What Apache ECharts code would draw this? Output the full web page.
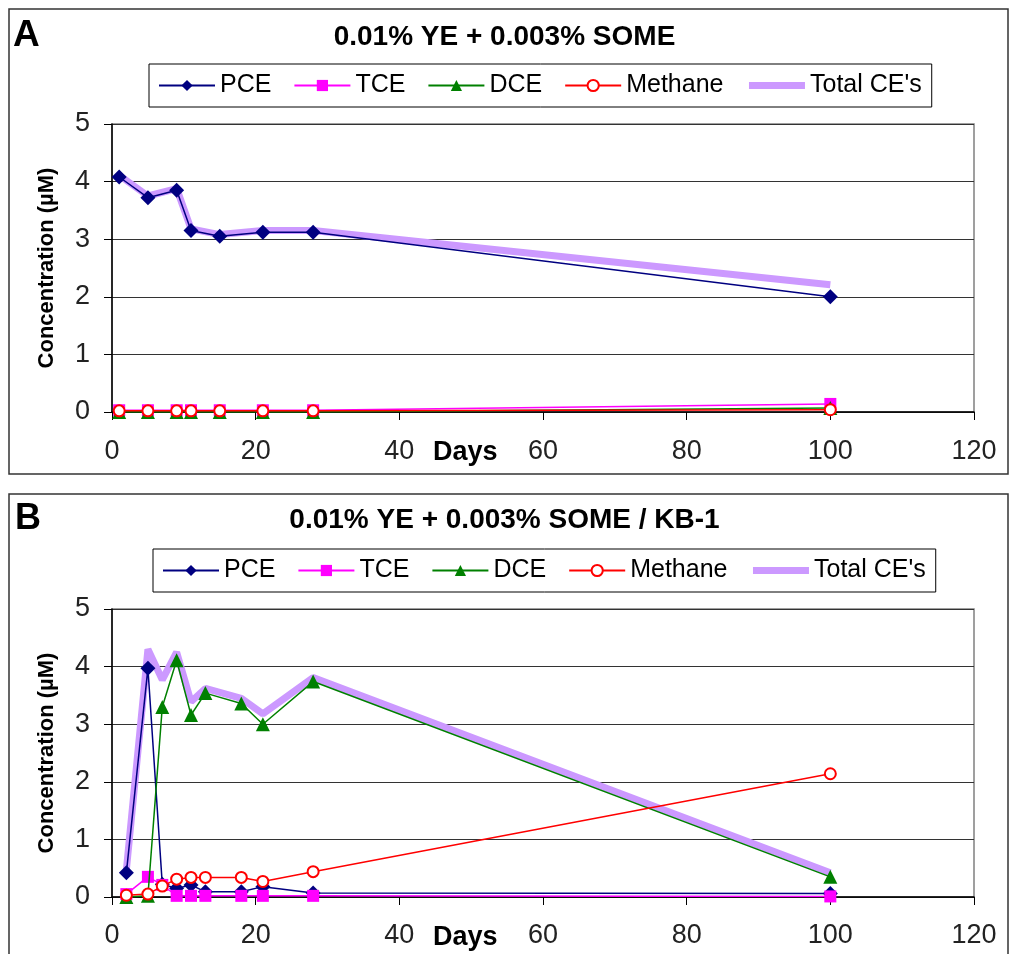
<!DOCTYPE html>
<html lang="en">
<head>
    <meta charset="UTF-8">
    <title>Concentration vs Days</title>
    <script src="https://cdn.jsdelivr.net/npm/echarts@6/dist/echarts.min.js"></script>
    <style>
        html, body { margin: 0; padding: 0; background: #fff; }
    </style>
</head>
<body>
<div id="main" style="width: 1009px;height:954px;"></div>
<script type="text/javascript">
    // panel A : 0.01% YE + 0.003% SOME
    var daysA = [1, 5, 9, 11, 15, 21, 28, 100];
    var pceA = [4.08, 3.72, 3.85, 3.15, 3.05, 3.12, 3.12, 2.0];
    var tceA = [0.03, 0.03, 0.03, 0.03, 0.03, 0.03, 0.03, 0.14];
    var dceA = [0.0, 0.0, 0.0, 0.0, 0.0, 0.0, 0.0, 0.07];
    var methaneA = [0.02, 0.02, 0.02, 0.02, 0.02, 0.02, 0.02, 0.04];
    var totalA = [4.11, 3.75, 3.88, 3.18, 3.08, 3.15, 3.15, 2.21];

    // panel B : 0.01% YE + 0.003% SOME / KB-1
    var daysB = [2, 5, 7, 9, 11, 13, 18, 21, 28, 100];
    var pceB = [0.42, 3.97, 0.22, 0.15, 0.21, 0.09, 0.09, 0.18, 0.07, 0.06];
    var tceB = [0.05, 0.35, 0.21, 0.02, 0.02, 0.02, 0.02, 0.02, 0.02, 0.01];
    var dceB = [0.0, 0.02, 3.30, 4.11, 3.16, 3.54, 3.36, 3.0, 3.74, 0.35];
    var methaneB = [0.03, 0.05, 0.19, 0.31, 0.34, 0.34, 0.34, 0.27, 0.44, 2.14];
    var totalB = [0.47, 4.30, 3.77, 4.25, 3.39, 3.62, 3.45, 3.18, 3.81, 0.42];

    var names = ["PCE", "TCE", "DCE", "Methane", "Total CE's"];
    var xTicks = [0, 20, 40, 60, 80, 100, 120];
    var yTicks = [0, 1, 2, 3, 4, 5];

    var FONT = "Liberation Sans, Arial, sans-serif";

    function pairs(days, vals) {
        return days.map(function (d, i) {
            return [d, vals[i]];
        });
    }

    function makeSeries(idx, days, pce, tce, dce, methane, total) {
        return [
            {
                name: "Total CE's", type: "line", xAxisIndex: idx, yAxisIndex: idx,
                symbol: "none", z: 1,
                lineStyle: {color: "#cc99ff", width: 7},
                itemStyle: {color: "#cc99ff"},
                data: pairs(days, total)
            },
            {
                name: "PCE", type: "line", xAxisIndex: idx, yAxisIndex: idx,
                symbol: "diamond", symbolSize: 15, z: 3,
                lineStyle: {color: "#000080", width: 1.5},
                itemStyle: {color: "#000080"},
                data: pairs(days, pce)
            },
            {
                name: "TCE", type: "line", xAxisIndex: idx, yAxisIndex: idx,
                symbol: "rect", symbolSize: 12, z: 4,
                lineStyle: {color: "#ff00ff", width: 1.5},
                itemStyle: {color: "#ff00ff"},
                data: pairs(days, tce)
            },
            {
                name: "DCE", type: "line", xAxisIndex: idx, yAxisIndex: idx,
                symbol: "triangle", symbolSize: 14, z: 5,
                lineStyle: {color: "#008000", width: 1.5},
                itemStyle: {color: "#008000"},
                data: pairs(days, dce)
            },
            {
                name: "Methane", type: "line", xAxisIndex: idx, yAxisIndex: idx,
                symbol: "emptyCircle", symbolSize: 11, z: 6,
                lineStyle: {color: "#ff0000", width: 1.5},
                itemStyle: {color: "#ff0000", borderWidth: 1.5},
                data: pairs(days, methane)
            }
        ];
    }

    function xAxisOpt(idx, margin) {
        return {
            type: "value", gridIndex: idx, min: xTicks[0], max: xTicks[xTicks.length - 1], interval: 20,
            axisLine: {lineStyle: {color: "#000", width: 1.5}},
            axisTick: {length: 8, lineStyle: {color: "#000"}},
            axisLabel: {fontFamily: FONT, fontSize: 27, color: "#222", margin: margin},
            splitLine: {show: false}
        };
    }

    function yAxisOpt(idx) {
        return {
            type: "value", gridIndex: idx, min: yTicks[0], max: yTicks[yTicks.length - 1], interval: 1,
            name: "Concentration (µM)", nameLocation: "middle", nameGap: 54,
            nameTextStyle: {fontFamily: FONT, fontSize: 22, fontWeight: "bold", color: "#000"},
            axisLine: {show: true, lineStyle: {color: "#000", width: 1.5}},
            axisTick: {show: true, length: 8, lineStyle: {color: "#000"}},
            axisLabel: {fontFamily: FONT, fontSize: 27, color: "#222", margin: 22},
            splitLine: {lineStyle: {color: "#333", width: 1.2}}
        };
    }

    function legendOpt(left, top) {
        var data = names.map(function (n) {
            if (n === "Total CE's") {
                return {name: n, itemStyle: {opacity: 0}, lineStyle: {width: 7}};
            }
            return {name: n};
        });
        return {
            data: data, left: left, top: top,
            orient: "horizontal",
            borderColor: "#000", borderWidth: 1,
            padding: [9, 10, 9, 9],
            itemWidth: 56, itemHeight: 14, itemGap: 22,
            textStyle: {fontFamily: FONT, fontSize: 25, color: "#000"}
        };
    }

    var myChart = echarts.init(document.getElementById('main'));
    myChart.setOption({
        backgroundColor: "#fff",
        animation: false,
        title: [
            {
                text: "0.01% YE + 0.003% SOME", left: "center", top: 18,
                textStyle: {fontFamily: FONT, fontSize: 28, fontWeight: "bold", color: "#000"}
            },
            {
                text: "0.01% YE + 0.003% SOME / KB-1", left: "center", top: 501,
                textStyle: {fontFamily: FONT, fontSize: 28, fontWeight: "bold", color: "#000"}
            }
        ],
        legend: [legendOpt(149, 64), legendOpt(153, 549)],
        grid: [
            {left: 112, top: 124, right: 35, bottom: 542, show: true, borderColor: "#808080", borderWidth: 1.5},
            {left: 112, top: 609, right: 35, bottom: 57, show: true, borderColor: "#808080", borderWidth: 1.5}
        ],
        xAxis: [xAxisOpt(0, 26), xAxisOpt(1, 25)],
        yAxis: [yAxisOpt(0), yAxisOpt(1)],
        graphic: [
            {type: "rect", shape: {x: 9, y: 9, width: 999, height: 465}, style: {fill: null, stroke: "#333", lineWidth: 1.5}, silent: true},
            {type: "rect", shape: {x: 9, y: 494, width: 999, height: 470}, style: {fill: null, stroke: "#333", lineWidth: 1.5}, silent: true},
            {type: "text", left: 13, top: 17, style: {text: "A", font: "bold 37px " + FONT, fill: "#000"}},
            {type: "text", left: 15, top: 501, style: {text: "B", font: "bold 36px " + FONT, fill: "#000"}},
            {type: "text", left: 433, top: 439, style: {text: "Days", font: "bold 27px " + FONT, fill: "#000"}},
            {type: "text", left: 433, top: 924, style: {text: "Days", font: "bold 27px " + FONT, fill: "#000"}}
        ],
        series: makeSeries(0, daysA, pceA, tceA, dceA, methaneA, totalA)
            .concat(makeSeries(1, daysB, pceB, tceB, dceB, methaneB, totalB))
    });
</script>
</body>
</html>
